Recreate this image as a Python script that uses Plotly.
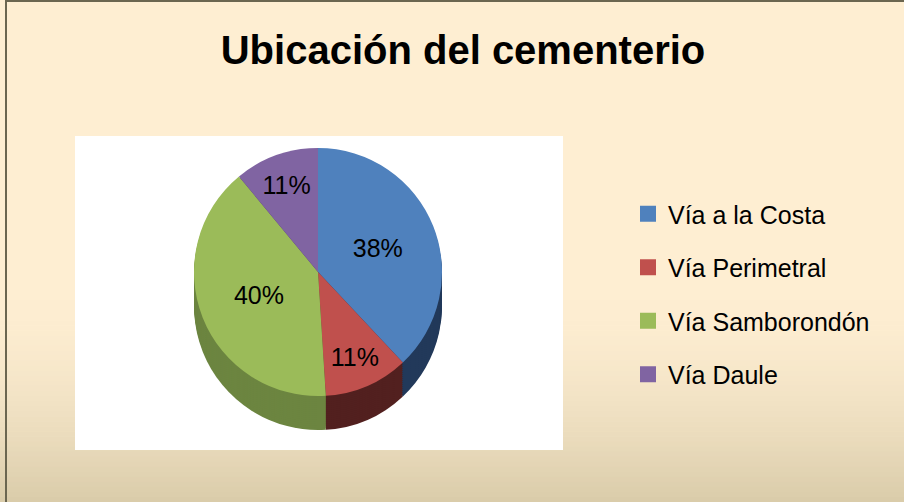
import plotly.graph_objects as go
import numpy as np

categories = ["Vía a la Costa", "Vía Perimetral", "Vía Samborondón", "Vía Daule"]
values = [38, 11, 40, 11]
top_colors = ["#4F81BD", "#C0504D", "#9BBB59", "#8064A2"]
side_colors = ["#22395A", "#52201F", "#6C8540", "#4B3A63"]
title_text = "Ubicación del cementerio"

W, H = 904, 502

fig = go.Figure()

# pie geometry (pixels)
cx, cy, r, depth = 318, 272, 124, 34


def dom(cx, cy, r):
    return dict(x=[(cx - r) / W, (cx + r) / W],
                y=[1 - (cy + r) / H, 1 - (cy - r) / H])


# side (depth) layers
for d in range(depth, 0, -2):
    fig.add_trace(go.Pie(
        labels=categories, values=values, sort=False, direction="clockwise",
        rotation=0, marker=dict(colors=side_colors, line=dict(width=0)),
        textinfo="none", hoverinfo="skip", showlegend=False,
        domain=dom(cx, cy + d, r)))

# top face
fig.add_trace(go.Pie(
    labels=categories, values=values, sort=False, direction="clockwise",
    rotation=0, marker=dict(colors=top_colors, line=dict(width=0)),
    texttemplate="%{value}%", textposition="inside", insidetextorientation="horizontal",
    textfont=dict(size=25, color="black", family="Liberation Sans"),
    showlegend=False, domain=dom(cx, cy, r)))

# legend entries
for name, c in zip(categories, top_colors):
    fig.add_trace(go.Scatter(x=[None], y=[None], mode="markers", name=name,
                             legendgroup=name,
                             marker=dict(symbol="square", size=16, color=c)))

shapes = []
# background gradient toward the bottom
c0 = np.array([0xFE, 0xEE, 0xD2])
c1 = np.array([0xDA, 0xCC, 0xAA])
y_start, n = 300, 40
for i in range(n):
    t = (i + 0.5) / n
    col = c0 + (c1 - c0) * t ** 1.6
    y0 = y_start + (H - y_start) * i / n
    y1 = y_start + (H - y_start) * (i + 1) / n + 0.5
    shapes.append(dict(type="rect", xref="paper", yref="paper", layer="below",
                       x0=0, x1=1, y0=1 - y1 / H, y1=1 - y0 / H,
                       line=dict(width=0),
                       fillcolor="rgb(%d,%d,%d)" % tuple(col.astype(int))))
# white plot area
shapes.append(dict(type="rect", xref="paper", yref="paper", layer="below",
                   x0=75 / W, x1=563 / W, y0=1 - 450 / H, y1=1 - 136 / H,
                   line=dict(width=0), fillcolor="white"))
# frame lines
shapes.append(dict(type="line", xref="paper", yref="paper", x0=6 / W, x1=6 / W,
                   y0=0, y1=1, line=dict(color="#6B6650", width=2)))
shapes.append(dict(type="line", xref="paper", yref="paper", x0=6 / W, x1=1,
                   y0=1 - 1 / H, y1=1 - 1 / H, line=dict(color="#6B6650", width=2)))

fig.update_layout(
    width=W, height=H,
    margin=dict(l=0, r=0, t=0, b=0),
    paper_bgcolor="#FEEED2",
    plot_bgcolor="rgba(0,0,0,0)",
    xaxis=dict(visible=False), yaxis=dict(visible=False),
    title=dict(text="<b>%s</b>" % title_text, x=463 / W, xanchor="center",
               y=1 - 50 / H, yanchor="middle",
               font=dict(family="Liberation Sans", size=40, color="black")),
    legend=dict(x=628 / W, y=1 - 191 / H, xanchor="left", yanchor="top",
                bgcolor="rgba(0,0,0,0)", tracegroupgap=18,
                font=dict(family="Liberation Sans", size=25, color="black"),
                itemclick=False),
    shapes=shapes,
)

fig.write_html("out.html", config={"displayModeBar": False},
               post_script="document.body.style.margin='0px';")
